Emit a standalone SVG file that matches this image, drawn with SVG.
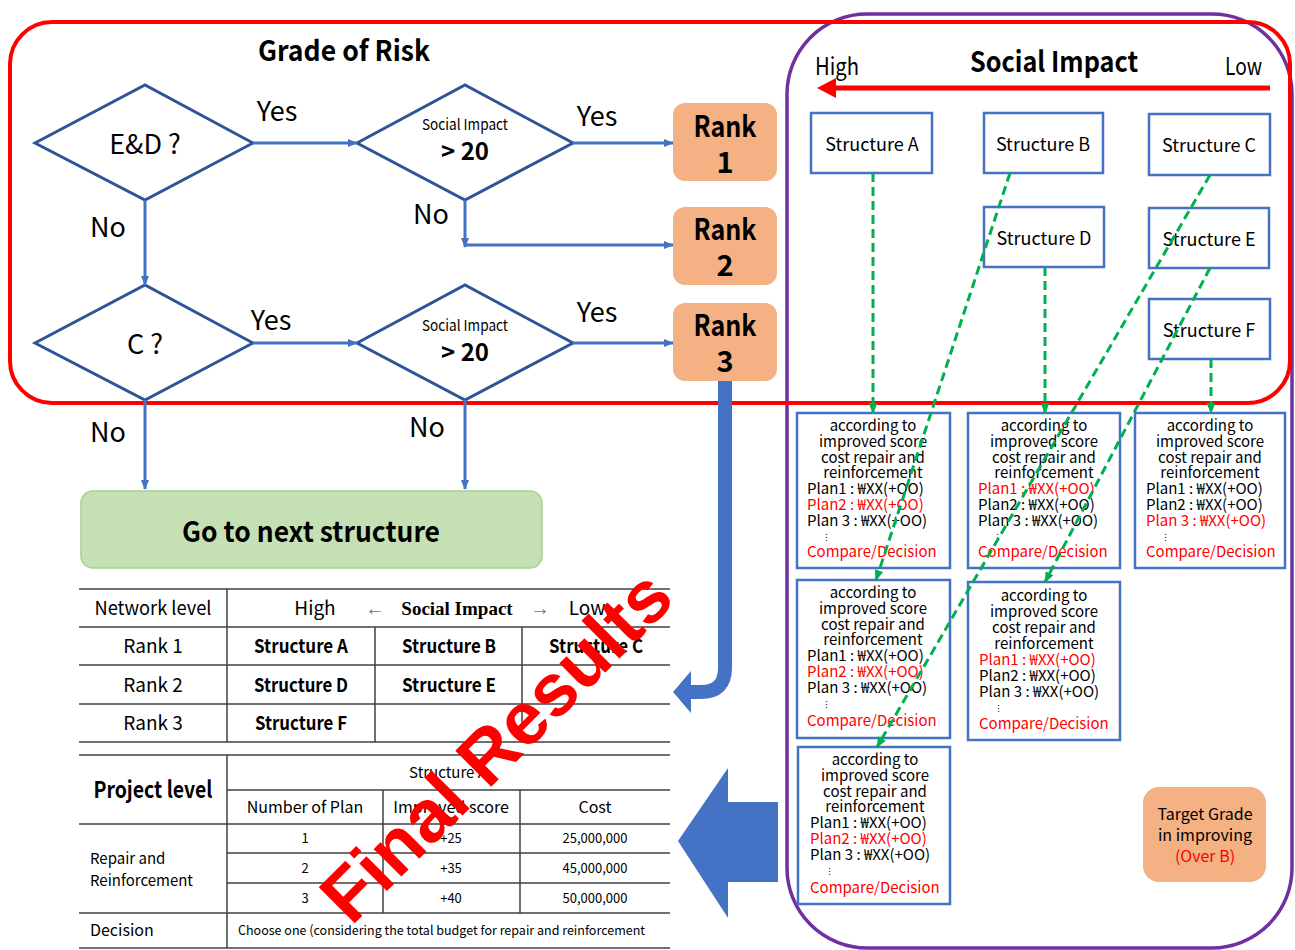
<svg xmlns="http://www.w3.org/2000/svg" width="1295" height="950" viewBox="0 0 1295 950">
<style>
text{font-family:"Noto Sans CJK KR","Noto Sans",sans-serif;fill:#000}
.dia{fill:#fff;stroke:#2F5597;stroke-width:3}
.fl{stroke:#4472C4;stroke-width:3;fill:none}
.lbl{font-size:27px;text-anchor:middle}
.rank{fill:#F4B183;stroke:none}
.rt{font-size:29px;font-weight:bold;text-anchor:middle}
.sb{fill:#fff;stroke:#4472C4;stroke-width:2.5}
.st{font-size:18px;text-anchor:middle}
.ib{fill:#fff;stroke:#4472C4;stroke-width:2.5}
.it{font-size:15px}
.dots{font-size:9px}
.c{text-anchor:middle}
.red{fill:#FF0000}
.gd{stroke:#00B050;stroke-width:3;stroke-dasharray:9,5;fill:none}
.tl{stroke:#404040;stroke-width:1.5;fill:none}
.tt{font-size:19px;text-anchor:middle}
.ts{font-size:19px;text-anchor:middle;font-weight:bold}
.pt{font-size:13px;text-anchor:middle}
</style>
<defs>
<marker id="ab" viewBox="0 0 10 10" refX="9" refY="5" markerWidth="10" markerHeight="10" markerUnits="userSpaceOnUse" orient="auto"><path d="M0,1 L10,5 L0,9 z" fill="#4472C4"/></marker>
<marker id="ag" viewBox="0 0 10 10" refX="9" refY="5" markerWidth="11" markerHeight="11" markerUnits="userSpaceOnUse" orient="auto"><path d="M0,1 L10,5 L0,9 z" fill="#00B050"/></marker>
</defs>
<rect width="1295" height="950" fill="#fff"/>

<g id="frames">
<rect x="787" y="14" width="505" height="934" rx="80" ry="80" fill="none" stroke="#7030A0" stroke-width="3.5"/>
<rect x="10" y="22" width="1280" height="381" rx="42" ry="42" fill="none" stroke="#FF0000" stroke-width="4"/>
</g>

<text x="344" y="61" font-size="28" font-weight="bold" text-anchor="middle" textLength="172" lengthAdjust="spacingAndGlyphs">Grade of Risk</text>

<!-- diamonds -->
<g id="d1"><polygon class="dia" points="35,143 145,85 253,143 145,200"/><text x="145" y="154" font-size="27" text-anchor="middle">E&amp;D ?</text></g>
<g id="d2"><polygon class="dia" points="357,143 465,85 573,143 465,200"/><text x="465" y="130" font-size="15" text-anchor="middle" textLength="86" lengthAdjust="spacingAndGlyphs">Social Impact</text><text x="465" y="160" font-size="24" font-weight="bold" text-anchor="middle">&gt; 20</text></g>
<g id="d3"><polygon class="dia" points="35,343 145,285 253,343 145,400"/><text x="145" y="354" font-size="27" text-anchor="middle">C ?</text></g>
<g id="d4"><polygon class="dia" points="357,343 465,285 573,343 465,400"/><text x="465" y="331" font-size="15" text-anchor="middle" textLength="86" lengthAdjust="spacingAndGlyphs">Social Impact</text><text x="465" y="361" font-size="24" font-weight="bold" text-anchor="middle">&gt; 20</text></g>

<g id="labels">
<text class="lbl" x="277" y="121">Yes</text>
<text class="lbl" x="597" y="126">Yes</text>
<text class="lbl" x="108" y="237">No</text>
<text class="lbl" x="431" y="224">No</text>
<text class="lbl" x="271" y="330">Yes</text>
<text class="lbl" x="597" y="322">Yes</text>
<text class="lbl" x="108" y="442">No</text>
<text class="lbl" x="427" y="437">No</text>
</g>

<g id="rank1"><rect class="rank" x="673" y="103" width="104" height="78" rx="12"/><text class="rt" x="725" y="137" textLength="63" lengthAdjust="spacingAndGlyphs">Rank</text><text class="rt" x="725" y="173">1</text></g>
<g id="rank2"><rect class="rank" x="673" y="207" width="104" height="78" rx="12"/><text class="rt" x="725" y="240" textLength="63" lengthAdjust="spacingAndGlyphs">Rank</text><text class="rt" x="725" y="276">2</text></g>
<g id="rank3"><rect class="rank" x="673" y="303" width="104" height="78" rx="12"/><text class="rt" x="725" y="336" textLength="63" lengthAdjust="spacingAndGlyphs">Rank</text><text class="rt" x="725" y="372">3</text></g>

<g id="next"><rect x="81" y="491" width="461" height="77" rx="12" fill="#C5E0B4" stroke="#A9D18E" stroke-width="1.5"/><text x="311" y="542" font-size="28" font-weight="bold" text-anchor="middle" textLength="258" lengthAdjust="spacingAndGlyphs">Go to next structure</text></g>

<g id="si-header">
<text x="815" y="75" font-size="24" textLength="44" lengthAdjust="spacingAndGlyphs">High</text>
<text x="1054" y="72" font-size="28" font-weight="bold" text-anchor="middle" textLength="168" lengthAdjust="spacingAndGlyphs">Social Impact</text>
<text x="1262" y="75" font-size="24" text-anchor="end" textLength="37" lengthAdjust="spacingAndGlyphs">Low</text>
</g>

<g id="sA"><rect class="sb" x="811" y="113" width="121" height="60"/><text class="st" x="872" y="151">Structure A</text></g>
<g id="sB"><rect class="sb" x="984" y="113" width="119" height="60"/><text class="st" x="1043" y="151">Structure B</text></g>
<g id="sC"><rect class="sb" x="1149" y="114" width="121" height="61"/><text class="st" x="1209" y="152">Structure C</text></g>
<g id="sD"><rect class="sb" x="984" y="207" width="120" height="60"/><text class="st" x="1044" y="245">Structure D</text></g>
<g id="sE"><rect class="sb" x="1149" y="208" width="120" height="60"/><text class="st" x="1209" y="246">Structure E</text></g>
<g id="sF"><rect class="sb" x="1149" y="299" width="121" height="60"/><text class="st" x="1209" y="337">Structure F</text></g>

<g id="i1"><rect class="ib" x="797" y="413" width="153" height="155"/>
<text class="it c" x="873" y="431">according  to</text><text class="it c" x="873" y="447">improved  score</text><text class="it c" x="873" y="463">cost  repair and</text><text class="it c" x="873" y="478">reinforcement</text>
<text class="it" x="807" y="494">Plan1 : ₩XX(+OO)</text><text class="it red" x="807" y="510">Plan2 : ₩XX(+OO)</text><text class="it" x="807" y="526">Plan 3 : ₩XX(+OO)</text><text class="dots" x="822" y="541">⋮</text><text class="it red" x="807" y="557">Compare/Decision</text></g>

<g id="i2"><rect class="ib" x="968" y="413" width="152" height="155"/>
<text class="it c" x="1044" y="431">according  to</text><text class="it c" x="1044" y="447">improved  score</text><text class="it c" x="1044" y="463">cost  repair and</text><text class="it c" x="1044" y="478">reinforcement</text>
<text class="it red" x="978" y="494">Plan1 : ₩XX(+OO)</text><text class="it" x="978" y="510">Plan2 : ₩XX(+OO)</text><text class="it" x="978" y="526">Plan 3 : ₩XX(+OO)</text><text class="dots" x="993" y="541">⋮</text><text class="it red" x="978" y="557">Compare/Decision</text></g>

<g id="i3"><rect class="ib" x="1135" y="413" width="150" height="155"/>
<text class="it c" x="1210" y="431">according  to</text><text class="it c" x="1210" y="447">improved  score</text><text class="it c" x="1210" y="463">cost  repair and</text><text class="it c" x="1210" y="478">reinforcement</text>
<text class="it" x="1146" y="494">Plan1 : ₩XX(+OO)</text><text class="it" x="1146" y="510">Plan2 : ₩XX(+OO)</text><text class="it red" x="1146" y="526">Plan 3 : ₩XX(+OO)</text><text class="dots" x="1161" y="541">⋮</text><text class="it red" x="1146" y="557">Compare/Decision</text></g>

<g id="i4"><rect class="ib" x="797" y="580" width="153" height="158"/>
<text class="it c" x="873" y="598">according  to</text><text class="it c" x="873" y="614">improved  score</text><text class="it c" x="873" y="630">cost  repair and</text><text class="it c" x="873" y="645">reinforcement</text>
<text class="it" x="807" y="661">Plan1 : ₩XX(+OO)</text><text class="it red" x="807" y="677">Plan2 : ₩XX(+OO)</text><text class="it" x="807" y="693">Plan 3 : ₩XX(+OO)</text><text class="dots" x="822" y="708">⋮</text><text class="it red" x="807" y="726">Compare/Decision</text></g>

<g id="i5"><rect class="ib" x="968" y="582" width="152" height="158"/>
<text class="it c" x="1044" y="601">according  to</text><text class="it c" x="1044" y="617">improved  score</text><text class="it c" x="1044" y="633">cost  repair and</text><text class="it c" x="1044" y="649">reinforcement</text>
<text class="it red" x="979" y="665">Plan1 : ₩XX(+OO)</text><text class="it" x="979" y="681">Plan2 : ₩XX(+OO)</text><text class="it" x="979" y="697">Plan 3 : ₩XX(+OO)</text><text class="dots" x="994" y="712">⋮</text><text class="it red" x="979" y="729">Compare/Decision</text></g>

<g id="i6"><rect class="ib" x="798" y="747" width="152" height="157"/>
<text class="it c" x="875" y="765">according  to</text><text class="it c" x="875" y="781">improved  score</text><text class="it c" x="875" y="797">cost  repair and</text><text class="it c" x="875" y="812">reinforcement</text>
<text class="it" x="810" y="828">Plan1 : ₩XX(+OO)</text><text class="it red" x="810" y="844">Plan2 : ₩XX(+OO)</text><text class="it" x="810" y="860">Plan 3 : ₩XX(+OO)</text><text class="dots" x="825" y="875">⋮</text><text class="it red" x="810" y="893">Compare/Decision</text></g>

<g id="target"><rect x="1143" y="787" width="123" height="95" rx="16" fill="#F4B183"/>
<text x="1205" y="820" font-size="16" text-anchor="middle">Target Grade</text>
<text x="1205" y="841" font-size="16" text-anchor="middle">in improving</text>
<text x="1205" y="862" font-size="16" text-anchor="middle" class="red">(Over B)</text></g>

<g id="network-table">
<line class="tl" x1="79" y1="589" x2="670" y2="589" stroke-width="2"/>
<line class="tl" x1="79" y1="627" x2="670" y2="627"/>
<line class="tl" x1="79" y1="665" x2="670" y2="665"/>
<line class="tl" x1="79" y1="704" x2="670" y2="704"/>
<line class="tl" x1="79" y1="742" x2="670" y2="742" stroke-width="2"/>
<line class="tl" x1="227" y1="589" x2="227" y2="742"/>
<line class="tl" x1="375" y1="627" x2="375" y2="742"/>
<line class="tl" x1="522" y1="627" x2="522" y2="742"/>
<text class="tt" x="153" y="615" textLength="117" lengthAdjust="spacingAndGlyphs">Network level</text>
<text class="tt" x="315" y="615">High</text>
<text x="375" y="615" font-size="20" text-anchor="middle" style="font-family:'Liberation Serif',serif;fill:#777">←</text>
<text x="457" y="615" font-size="19" font-weight="bold" text-anchor="middle" style="font-family:'Liberation Serif',serif">Social Impact</text>
<text x="540" y="615" font-size="20" text-anchor="middle" style="font-family:'Liberation Serif',serif;fill:#777">→</text>
<text class="tt" x="587" y="615">Low</text>
<text class="tt" x="153" y="653">Rank 1</text>
<text class="ts" x="301" y="653" textLength="94" lengthAdjust="spacingAndGlyphs">Structure A</text>
<text class="ts" x="449" y="653" textLength="94" lengthAdjust="spacingAndGlyphs">Structure B</text>
<text class="ts" x="596" y="653" textLength="94" lengthAdjust="spacingAndGlyphs">Structure C</text>
<text class="tt" x="153" y="692">Rank 2</text>
<text class="ts" x="301" y="692" textLength="94" lengthAdjust="spacingAndGlyphs">Structure D</text>
<text class="ts" x="449" y="692" textLength="94" lengthAdjust="spacingAndGlyphs">Structure E</text>
<text class="tt" x="153" y="730">Rank 3</text>
<text class="ts" x="301" y="730" textLength="92" lengthAdjust="spacingAndGlyphs">Structure F</text>
</g>

<g id="project-table">
<line class="tl" x1="79" y1="755" x2="670" y2="755" stroke-width="2"/>
<line class="tl" x1="227" y1="790" x2="670" y2="790"/>
<line class="tl" x1="79" y1="824" x2="670" y2="824"/>
<line class="tl" x1="227" y1="853" x2="670" y2="853"/>
<line class="tl" x1="227" y1="883" x2="670" y2="883"/>
<line class="tl" x1="79" y1="913" x2="670" y2="913"/>
<line class="tl" x1="79" y1="948" x2="670" y2="948" stroke-width="2"/>
<line class="tl" x1="227" y1="755" x2="227" y2="948"/>
<line class="tl" x1="383" y1="790" x2="383" y2="913"/>
<line class="tl" x1="520" y1="790" x2="520" y2="913"/>
<text x="153" y="798" font-size="23" font-weight="bold" text-anchor="middle" textLength="119" lengthAdjust="spacingAndGlyphs">Project level</text>
<text x="448" y="778" font-size="15" text-anchor="middle">Structure A</text>
<text x="305" y="813" font-size="16" text-anchor="middle">Number  of Plan</text>
<text x="451" y="813" font-size="16" text-anchor="middle">Improved  score</text>
<text x="595" y="813" font-size="16" text-anchor="middle">Cost</text>
<text class="pt" x="305" y="843">1</text><text class="pt" x="451" y="843">+25</text><text class="pt" x="595" y="843">25,000,000</text>
<text class="pt" x="305" y="873">2</text><text class="pt" x="451" y="873">+35</text><text class="pt" x="595" y="873">45,000,000</text>
<text class="pt" x="305" y="903">3</text><text class="pt" x="451" y="903">+40</text><text class="pt" x="595" y="903">50,000,000</text>
<text x="90" y="864" font-size="15">Repair and</text>
<text x="90" y="886" font-size="15">Reinforcement</text>
<text x="90" y="936" font-size="16">Decision</text>
<text x="238" y="935" font-size="13" textLength="407" lengthAdjust="spacingAndGlyphs">Choose one (considering the total budget for repair and reinforcement</text>
</g>

<g id="connectors">
<line class="fl" x1="253" y1="143" x2="357" y2="143" marker-end="url(#ab)"/>
<line class="fl" x1="573" y1="143" x2="673" y2="143" marker-end="url(#ab)"/>
<line class="fl" x1="465" y1="200" x2="465" y2="247" marker-end="url(#ab)"/>
<line class="fl" x1="465" y1="245" x2="673" y2="245" marker-end="url(#ab)"/>
<line class="fl" x1="145" y1="200" x2="145" y2="285" marker-end="url(#ab)" stroke-width="2.5"/>
<line class="fl" x1="253" y1="343" x2="357" y2="343" marker-end="url(#ab)"/>
<line class="fl" x1="573" y1="343" x2="673" y2="343" marker-end="url(#ab)"/>
<line class="fl" x1="145" y1="400" x2="145" y2="489" marker-end="url(#ab)" stroke-width="2.5"/>
<line class="fl" x1="465" y1="400" x2="465" y2="489" marker-end="url(#ab)" stroke-width="2.5"/>
<path d="M725,381 V668 Q725,692 701,692 H688" fill="none" stroke="#4472C4" stroke-width="14"/>
<polygon points="673,692 691,671 691,713" fill="#4472C4"/>
<polygon points="678,841 728,768 728,802 778,802 778,882 728,882 728,918" fill="#4472C4"/>
<line x1="1270" y1="88" x2="832" y2="88" stroke="#FF0000" stroke-width="5"/>
<polygon points="817,88 836,78 836,98" fill="#FF0000"/>
<line class="gd" x1="873" y1="173" x2="873" y2="413" marker-end="url(#ag)"/>
<line class="gd" x1="1010" y1="173" x2="876" y2="580" marker-end="url(#ag)"/>
<line class="gd" x1="1045" y1="267" x2="1045" y2="413" marker-end="url(#ag)"/>
<line class="gd" x1="1210" y1="175" x2="877" y2="747" marker-end="url(#ag)"/>
<line class="gd" x1="1210" y1="268" x2="1045" y2="582" marker-end="url(#ag)"/>
<line class="gd" x1="1211" y1="359" x2="1211" y2="413" marker-end="url(#ag)"/>
</g>

<text x="514" y="764" transform="rotate(-45 514 764)" font-size="74" font-weight="bold" text-anchor="middle" style="font-family:'Liberation Sans',Arial,sans-serif;fill:#FF0000">Final Results</text>
</svg>
